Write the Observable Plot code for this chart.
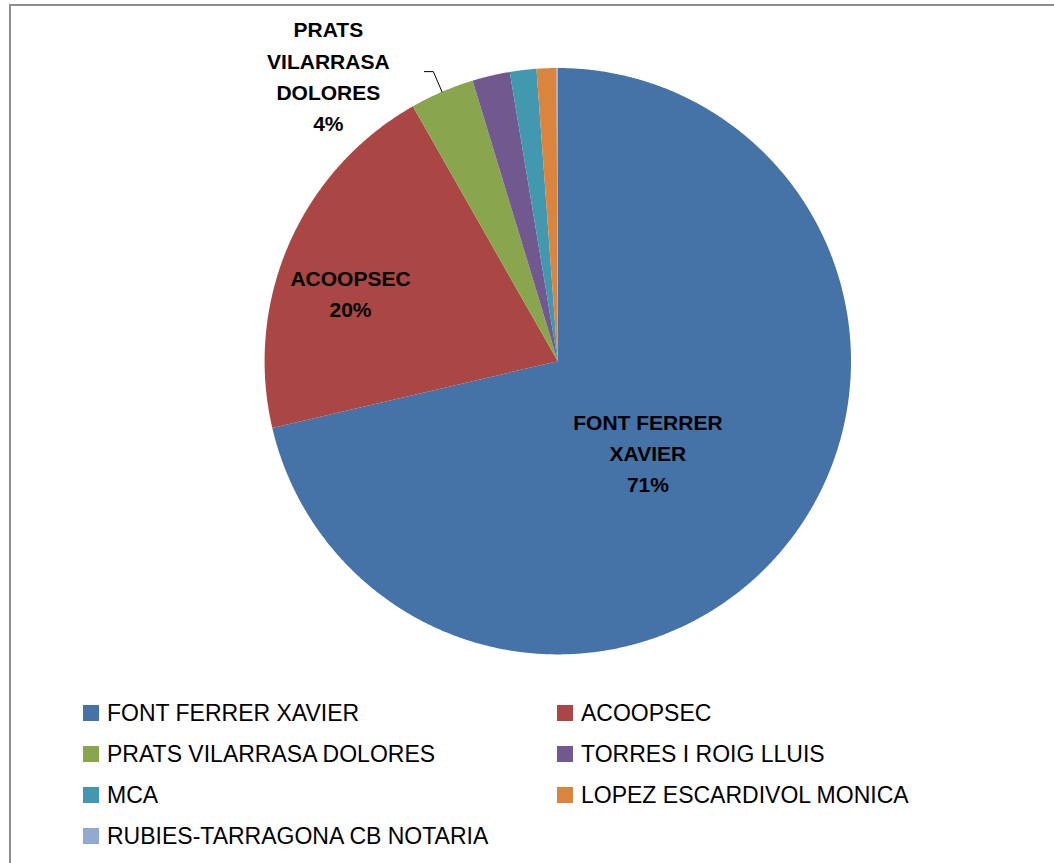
<!DOCTYPE html>
<html><head><meta charset="utf-8">
<script src="https://cdn.jsdelivr.net/npm/d3@7"></script>
<script src="https://cdn.jsdelivr.net/npm/@observablehq/plot@0.6"></script>
<style>
html,body{margin:0;padding:0;overflow:hidden;background:#fff;width:1054px;height:863px;}
#frame{position:absolute;left:9px;top:4px;width:1200px;height:1000px;border-top:2px solid #8e8e8e;border-left:2px solid #8e8e8e;box-sizing:border-box;}
#chart{position:absolute;left:0;top:0;}
#legend{position:absolute;left:0;top:0;font-family:"Liberation Sans",Arial,sans-serif;font-size:23px;color:#000;}
.item{position:absolute;display:flex;align-items:center;white-space:nowrap;height:28px;line-height:28px;}
.sw{width:16px;height:16px;margin-right:8px;flex:none;}
</style></head><body>
<div id="frame"></div>
<div id="chart"></div>
<div id="legend"></div>
<script>
// ---- data ----
const names = ["FONT FERRER XAVIER","ACOOPSEC","PRATS VILARRASA DOLORES","TORRES I ROIG LLUIS","MCA","LOPEZ ESCARDIVOL MONICA","RUBIES-TARRAGONA CB NOTARIA"];
const shares = [71.33, 20.43, 3.54, 2.07, 1.46, 1.09, 0.07];
const colors = ["#4572A7","#AA4643","#89A54E","#71588F","#4198AF","#DB843D","#93A9CF"];

// ---- layout ----
const W = 1054, H = 680;
const cx = 557.3, cy = 360.7, R = 293.2;

const rows = names.map((n, i) => ({name: n, v: shares[i]}));
const total = d3.sum(shares);
const arcs = d3.pie().sort(null).value(d => d.v).startAngle(0).endAngle(2 * Math.PI)(rows);

// slice polygons in unit coordinates (y up)
const poly = [];
for (const a of arcs) {
  const n = Math.max(2, Math.ceil((a.endAngle - a.startAngle) / (0.25 * Math.PI / 180)));
  poly.push({name: a.data.name, x: 0, y: 0});
  for (let k = 0; k <= n; k++) {
    const t = a.startAngle + (a.endAngle - a.startAngle) * k / n;
    poly.push({name: a.data.name, x: Math.sin(t), y: Math.cos(t)});
  }
}

function wrap(s, max) {
  const out = []; let cur = "";
  for (const w of s.split(" ")) {
    if (cur && (cur + " " + w).length > max) { out.push(cur); cur = w; }
    else cur = cur ? cur + " " + w : w;
  }
  if (cur) out.push(cur);
  return out.join("\n");
}

// label placement: radial fraction + pixel nudges (Excel best-fit)
const place = {0: {r: 0.44, dx: -11, dy: 10}, 1: {r: 0.738, dx: -9, dy: 17}};
const inside = [], outside = [], leader = [];
arcs.forEach((a, i) => {
  if (a.data.v / total < 0.03) return;
  const mid = (a.startAngle + a.endAngle) / 2;
  const text = wrap(a.data.name, 11) + "\n" + Math.round(a.data.v / total * 100) + "%";
  if (place[i]) {
    inside.push({x: place[i].r * Math.sin(mid), y: place[i].r * Math.cos(mid), text, dx: place[i].dx, dy: place[i].dy});
  } else {
    const bx = 1.075 * Math.sin(mid), by = 1.075 * Math.cos(mid);
    const ex = bx - 9 / R;
    leader.push({x: Math.sin(mid), y: Math.cos(mid)}, {x: bx, y: by}, {x: ex, y: by});
    outside.push({x: ex, y: by, text});
  }
});

const font = "'Liberation Sans', Arial, sans-serif";
const plot = Plot.plot({
  width: W, height: H,
  margin: 0,
  x: {domain: [-1, 1], range: [cx - R, cx + R], axis: null},
  y: {domain: [-1, 1], range: [cy + R, cy - R], axis: null},
  color: {domain: names, range: colors},
  style: {background: "transparent", overflow: "visible"},
  marks: [
    Plot.line(poly, {x: "x", y: "y", z: "name", fill: "name", stroke: "none", curve: "linear"}),
    Plot.line(leader, {x: "x", y: "y", stroke: "#000", strokeWidth: 1}),
    ...inside.map(d => Plot.text([d], {x: "x", y: "y", text: "text", dx: d.dx, dy: d.dy,
      fontSize: 21, fontWeight: "bold", fontFamily: font, lineHeight: 1.48, fill: "#000", textAnchor: "middle"})),
    Plot.text(outside, {x: "x", y: "y", text: "text", dx: -96, dy: 2.5,
      fontSize: 21, fontWeight: "bold", fontFamily: font, lineHeight: 1.48, fill: "#000", textAnchor: "middle"})
  ]
});
document.getElementById("chart").append(plot);

// legend
const leg = document.getElementById("legend");
names.forEach((n, i) => {
  const col = i % 2, row = Math.floor(i / 2);
  const it = document.createElement("div");
  it.className = "item";
  it.style.left = (col ? 557 : 83) + "px";
  it.style.top = (705 + row * 41 - 6) + "px";
  const sw = document.createElement("div");
  sw.className = "sw"; sw.style.background = colors[i];
  const tx = document.createElement("span");
  tx.textContent = n;
  it.append(sw, tx);
  leg.append(it);
});
</script>
</body></html>
